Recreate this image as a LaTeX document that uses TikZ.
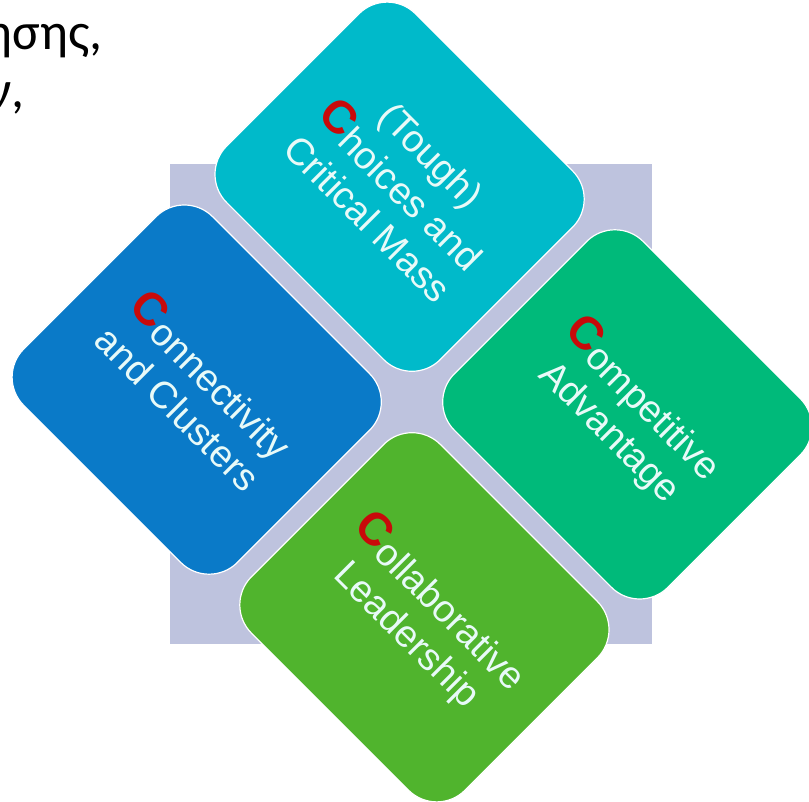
\documentclass[tikz,border=0pt]{standalone}
\usepackage{fontspec}
\setmainfont{Liberation Sans}
\newfontfamily\greekfont{Carlito}
\definecolor{bgsq}{RGB}{190,195,222}
\definecolor{ccyan}{RGB}{0,186,202}
\definecolor{cblue}{RGB}{10,122,200}
\definecolor{cteal}{RGB}{0,186,122}
\definecolor{cgreen}{RGB}{80,180,45}
\definecolor{cred}{RGB}{200,10,10}
\definecolor{ctext}{RGB}{232,250,248}
\newcommand{\RedC}{\textcolor{cred}{\raisebox{5pt}{\fontsize{46}{46}\selectfont\bfseries C}}}
\begin{document}
\begin{tikzpicture}[x=1pt,y=1pt,
  tile/.style={rectangle, rounded corners=40pt, minimum width=302pt,
    minimum height=267pt, rotate=-45, draw=white, line width=1.2pt,
    text=ctext, align=center, font=\fontsize{38}{44}\selectfont, inner sep=0pt},
  greek/.style={font=\greekfont\fontsize{52}{60}\selectfont, anchor=base east,
    inner sep=0pt, text=black}]
\useasboundingbox (0,0) rectangle (809,801);
\clip (0,0) rectangle (809,801);
\fill[white] (0,0) rectangle (809,801);
\node[greek] (gr1) at (103,751) {ησης,};
\node[greek] (gr2) at (25,693) {ν,};
\node[fill=bgsq, minimum width=482pt, minimum height=480pt, inner sep=0pt] (backsq) at (411,397) {};
\node[tile, fill=ccyan] (choices) at (399.6,614.3) {(Tough)\\ \RedC hoices and\\ Critical Mass};
\node[tile, fill=cblue] (connect) at (196.7,411.4) {\RedC onnectivity\\ and Clusters};
\node[tile, fill=cteal] (compet) at (627.3,386.6) {\RedC ompetitive\\ Advantage};
\node[tile, fill=cgreen] (collab) at (424.4,183.7) {\RedC ollaborative\\ Leadership};
\end{tikzpicture}
\end{document}
